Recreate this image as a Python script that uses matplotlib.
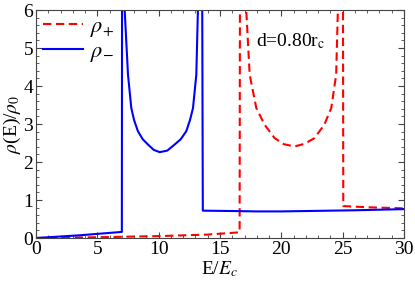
import matplotlib
matplotlib.use("Agg")
import matplotlib.pyplot as plt
from matplotlib.ticker import MultipleLocator

plt.rcParams["font.family"] = "Liberation Serif"
plt.rcParams["mathtext.fontset"] = "stix"

# rho_minus (blue, solid)
e_minus = [0, 3.5, 7.0, 7.03, 7.23, 7.5, 7.77, 8.0, 8.31, 8.7, 9.13, 9.6, 10.08, 10.7, 11.3, 11.8, 12.25, 12.55, 12.8, 13.07, 13.2, 13.5, 13.6,
           16, 18, 20, 22, 24, 26, 28, 30]
rho_minus = [0, 0.07, 0.16, 12, 6.0, 4.3, 3.42, 3.1, 2.81, 2.6, 2.46, 2.32, 2.26, 2.3, 2.46, 2.6, 2.81, 3.1, 3.42, 4.3, 6.0, 12, 0.72,
             0.71, 0.70, 0.70, 0.71, 0.72, 0.73, 0.745, 0.76]

# rho_plus (red, dashed)
e_plus = [0, 5, 10, 14, 16.6, 16.65, 17.14, 17.42, 17.96, 18.64, 19.45, 20.2, 21.08, 21.9, 22.7, 23.5, 24.07, 24.47, 24.61, 25.0, 25.05,
          27, 30]
rho_plus = [0, 0.02, 0.05, 0.09, 0.15, 12, 6.0, 4.3, 3.42, 2.98, 2.63, 2.47, 2.41, 2.48, 2.63, 2.98, 3.42, 4.3, 6.0, 12, 0.84,
            0.81, 0.78]

fig = plt.figure(figsize=(4.15, 2.87), dpi=100)
ax = fig.add_axes([0.0867, 0.1707, 0.8868, 0.7943])

ax.plot(e_plus, rho_plus, color="#ff0000", linestyle=(0, (4, 2.2)), linewidth=1.5, label=r"$\rho_{+}$")
ax.plot(e_minus, rho_minus, color="#0000ff", linewidth=1.5, label=r"$\rho_{-}$")

ax.set_xlim(0, 30)
ax.set_ylim(0, 6)
ax.xaxis.set_major_locator(MultipleLocator(5))
ax.xaxis.set_minor_locator(MultipleLocator(1))
ax.yaxis.set_major_locator(MultipleLocator(1))
ax.yaxis.set_minor_locator(MultipleLocator(0.2))
ax.tick_params(which="both", direction="in", top=True, right=True, labelsize=14, color="#444444", pad=2)
ax.tick_params(which="major", length=4)
ax.tick_params(which="minor", length=2)
for s in ax.spines.values():
    s.set_color("#444444")

ax.set_xlabel(r"E/$E_c$", fontsize=14, labelpad=1)
ax.set_ylabel(r"$\rho$(E)/$\rho_0$", fontsize=14, labelpad=0)

ax.text(17.9, 5.17, r"d=0.80r$_\mathrm{c}$", fontsize=14, va="center")

ax.legend(loc="upper left", frameon=False, fontsize=16, handlelength=1.8,
          borderaxespad=0.1, handletextpad=0.35, labelspacing=0.1, borderpad=0.2)

fig.savefig("out.png", dpi=100)
